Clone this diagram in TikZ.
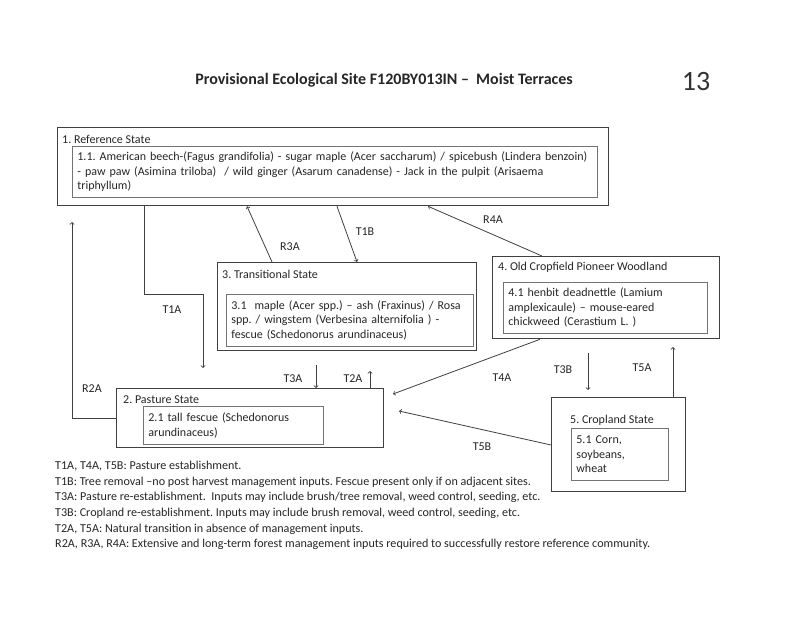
\documentclass[tikz,border=0pt]{standalone}
\usepackage{fontspec}
\setmainfont{Carlito}
\usetikzlibrary{calc}
\usetikzlibrary{positioning}
\frenchspacing
\newcommand{\statefont}{\fontsize{12}{14.5}\selectfont}
\tikzset{statebox/.style={draw=black!75,
                        line width=1.3pt,
                        inner sep=0pt,
                        anchor=north west
                        },
        phasebox/.style={draw=black!55,
                        line width=0.8pt,
                        inner xsep=5pt,
                        inner ysep=0pt,
                        anchor=north west,
                        align=left,
                        font=\statefont,
                        text=black!85
        },
        statelabel/.style={anchor=west, inner sep=0pt, font=\statefont, text=black!85},
        translabel/.style={inner sep=0pt, font=\statefont, text=black!85},
        transarrow/.style={->, draw=black!75, line width=0.8pt},
}

\begin{document}
\begin{tikzpicture}
    [x=1pt,y=-1pt]
    \useasboundingbox[fill=white] (0,0) rectangle (800,617);

    % TITLE
    \node[font=\bfseries\fontsize{16}{19}\selectfont, text=black!85] (title) at (384,80) {Provisional Ecological Site F120BY013IN –\ \ Moist Terraces};
    \node[font=\fontsize{28}{32}\selectfont, text=black!80] (pagenum) at (696,82) {13};

    % STATES
    \node[statebox, minimum width=551pt, minimum height=78pt] (ref) at (57,127) {};
    \node[statelabel] (refname) at ([xshift=5pt,yshift=-12pt]ref.north west) {1. Reference State};
    \node[phasebox, text width=515pt, minimum height=51pt] (refphase) at ([xshift=15pt,yshift=-19pt]ref.north west) {1.1. American beech-(Fagus grandifolia) - sugar maple (Acer saccharum) / spicebush (Lindera benzoin)\\ - paw paw (Asimina triloba) \ / wild ginger (Asarum canadense) - Jack in the pulpit (Arisaema\\ triphyllum)};

    \node[statebox, minimum width=259pt, minimum height=88pt] (trans) at (217,262) {};
    \node[statelabel] (transname) at ([xshift=5pt,yshift=-12pt]trans.north west) {3. Transitional State};
    \node[phasebox, text width=237pt, minimum height=52pt] (transphase) at ([xshift=9pt,yshift=-32pt]trans.north west) {3.1 \ maple (Acer spp.) – ash (Fraxinus) / Rosa\\ spp. / wingstem (Verbesina alternifolia ) -\\ fescue (Schedonorus arundinaceus)};

    \node[statebox, minimum width=227pt, minimum height=82pt] (oldcrop) at (492,256) {};
    \node[statelabel] (oldcropname) at ([xshift=6pt,yshift=-11pt]oldcrop.north west) {4. Old Cropfield Pioneer Woodland};
    \node[phasebox, text width=194pt, minimum height=51pt] (oldcropphase) at ([xshift=11pt,yshift=-26pt]oldcrop.north west) {4.1 henbit deadnettle (Lamium\\ amplexicaule) – mouse-eared\\ chickweed (Cerastium L. )};

    \node[statebox, minimum width=134pt, minimum height=94pt] (crop) at (551,397) {};
    \node[statelabel] (cropname) at ([xshift=19pt,yshift=-23pt]crop.north west) {5. Cropland State};
    \node[phasebox, text width=87pt, minimum height=52pt] (cropphase) at ([xshift=20pt,yshift=-31pt]crop.north west) {5.1 Corn,\\ soybeans,\\ wheat};

    \node[statebox, minimum width=267pt, minimum height=59pt] (pasture) at (116,388) {};
    \node[statelabel] (pasturename) at ([xshift=7pt,yshift=-12pt]pasture.north west) {2. Pasture State};
    \node[phasebox, text width=170pt, minimum height=38pt] (pasturephase) at ([xshift=27pt,yshift=-18pt]pasture.north west) {2.1 tall fescue (Schedonorus\\ arundinaceus)};

    % TRANSITIONS
    \coordinate (t1aend) at (203,368);
    \coordinate (r2aend) at (72,222);
    \coordinate (t3astart) at (316,365);
    \coordinate (t2aend) at (370,371);
    \coordinate (t4aend) at (393,394);
    \coordinate (t5bend) at (399,411);
    \coordinate (t3bstart) at (588,353);
    \coordinate (t3bend) at (588,390);
    \coordinate (t5aend) at (673,347);

    \draw[transarrow] ([xshift=55pt]trans.north west) -- ([xshift=190pt]ref.south west);
    \draw[transarrow] ([xshift=280pt]ref.south west) -- ([xshift=140pt]trans.north west);
    \draw[transarrow] ([xshift=50pt]oldcrop.north west) -- ([xshift=371pt]ref.south west);
    \draw[transarrow] ([xshift=87pt]ref.south west) -- ++(0,88) -| (t1aend);
    \draw[transarrow] (pasture.west) -| (r2aend);
    \draw[transarrow] (t3astart) -- (t3astart |- pasture.north);
    \draw[transarrow] (t2aend |- pasture.north) -- (t2aend);
    \draw[transarrow] ([xshift=48pt]oldcrop.south west) -- (t4aend);
    \draw[transarrow] ([yshift=-48pt]crop.north west) -- (t5bend);
    \draw[transarrow] (t3bstart) -- (t3bend);
    \draw[transarrow] (t5aend |- crop.north) -- (t5aend);

    \node[translabel] (lblR3A) at (290,247) {R3A};
    \node[translabel] (lblT1B) at (365,232) {T1B};
    \node[translabel] (lblR4A) at (493,220) {R4A};
    \node[translabel] (lblT1A) at (172,310) {T1A};
    \node[translabel] (lblR2A) at (92,389) {R2A};
    \node[translabel] (lblT3A) at (293,379) {T3A};
    \node[translabel] (lblT2A) at (353,379) {T2A};
    \node[translabel] (lblT4A) at (502,378) {T4A};
    \node[translabel] (lblT3B) at (563,370) {T3B};
    \node[translabel] (lblT5A) at (642,368) {T5A};
    \node[translabel] (lblT5B) at (482,447) {T5B};

    % KEY
    \node[anchor=north west, inner sep=0pt, align=left, font=\fontsize{12.1}{15.6}\selectfont, text=black!85] (legend) at (55,461) {T1A, T4A, T5B: Pasture establishment.\\
        T1B: Tree removal –no post harvest management inputs. Fescue present only if on adjacent sites.\\
        T3A: Pasture re-establishment. \ Inputs may include brush/tree removal, weed control, seeding, etc.\\
        T3B: Cropland re-establishment. Inputs may include brush removal, weed control, seeding, etc.\\
        T2A, T5A: Natural transition in absence of management inputs.\\
        R2A, R3A, R4A: Extensive and long-term forest management inputs required to successfully restore reference community.};

\end{tikzpicture}
\end{document}
